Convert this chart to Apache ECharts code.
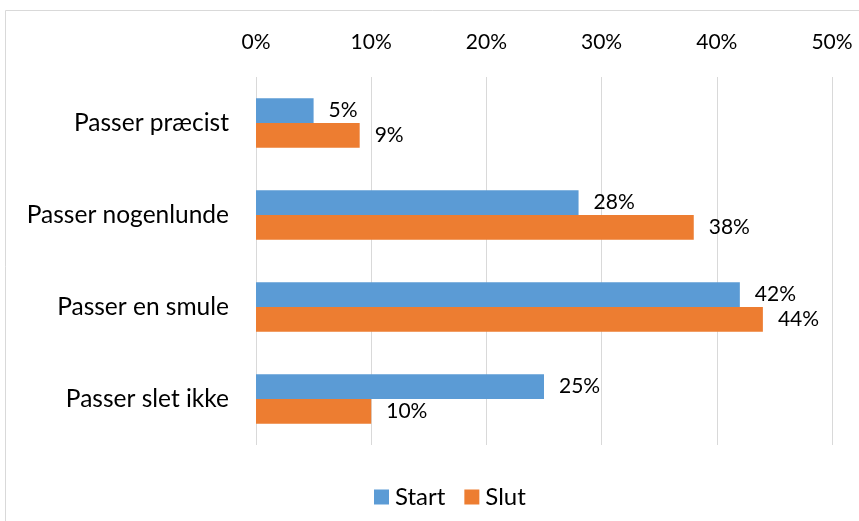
<!DOCTYPE html>
<html>
<head>
<meta charset="utf-8">
<script src="https://cdn.jsdelivr.net/npm/echarts@6/dist/echarts.min.js"></script>
<style>
  html, body { margin: 0; padding: 0; background: #fff; }
  #chart { width: 859px; height: 521px; }
</style>
</head>
<body>
<div id="chart"></div>
<script>
var categories = ["Passer præcist", "Passer nogenlunde", "Passer en smule", "Passer slet ikke"];
var startValues = [5, 28, 42, 25];
var slutValues = [9, 38, 44, 10];
var tickLabels = [0, 10, 20, 30, 40, 50];

var font = "Lato";

var myChart = echarts.init(document.getElementById('chart'));
var option = {
    animation: false,
    backgroundColor: '#fff',
    textStyle: { fontFamily: font },
    graphic: [{
        type: 'rect',
        shape: { x: 5.5, y: 10.5, width: 870, height: 530 },
        style: { fill: 'none', stroke: '#D9D9D9', lineWidth: 1 },
        silent: true
    }],
    grid: { left: 256, right: 27, top: 77, bottom: 76 },
    legend: {
        top: 480,
        left: 369,
        itemWidth: 15,
        itemHeight: 15,
        itemGap: 19,
        icon: 'rect',
        textStyle: { fontFamily: font, fontSize: 24, color: '#000', padding: [0, 0, 0, 1] },
        data: ['Start', 'Slut']
    },
    xAxis: {
        type: 'value',
        position: 'top',
        min: tickLabels[0],
        max: tickLabels[tickLabels.length - 1],
        interval: 10,
        axisLine: { show: false },
        axisTick: { show: false },
        axisLabel: {
            formatter: '{value}%',
            fontFamily: font,
            fontSize: 21,
            color: '#000',
            margin: 24
        },
        splitLine: { lineStyle: { color: '#D9D9D9', width: 1 } }
    },
    yAxis: {
        type: 'category',
        inverse: true,
        data: categories,
        axisLine: { show: false },
        axisTick: { show: false },
        axisLabel: {
            fontFamily: font,
            fontSize: 24.5,
            color: '#000',
            margin: 27
        }
    },
    series: [{
        name: 'Start',
        type: 'bar',
        data: startValues,
        barGap: 0,
        barCategoryGap: '46%',
        itemStyle: { color: '#5B9BD5' },
        label: {
            show: true,
            position: 'right',
            distance: 15,
            formatter: '{c}%',
            fontFamily: font,
            fontSize: 21,
            color: '#000'
        }
    }, {
        name: 'Slut',
        type: 'bar',
        data: slutValues,
        itemStyle: { color: '#ED7D31' },
        label: {
            show: true,
            position: 'right',
            distance: 15,
            formatter: '{c}%',
            fontFamily: font,
            fontSize: 21,
            color: '#000'
        }
    }]
};
myChart.setOption(option);
</script>
</body>
</html>
